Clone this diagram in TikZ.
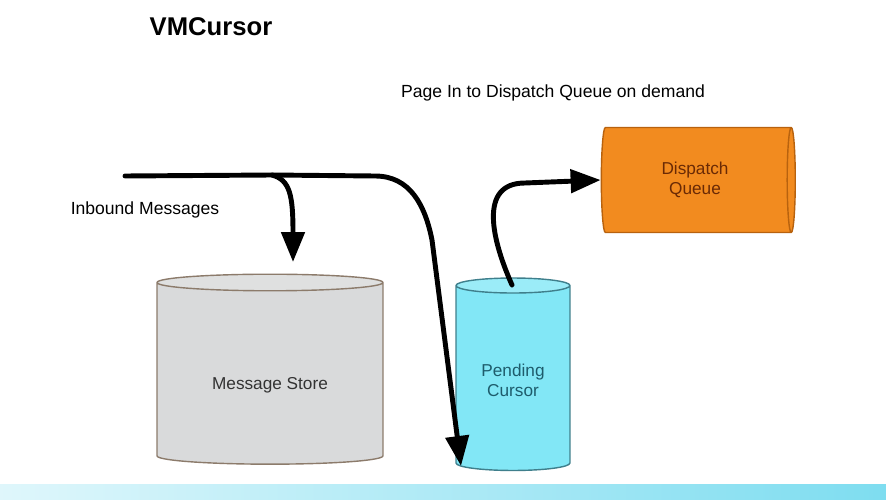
\documentclass[tikz,border=0pt]{standalone}
\usepackage{fontspec}
\setmainfont{Liberation Sans}
\usetikzlibrary{shapes.geometric,arrows.meta}
\definecolor{storegray}{HTML}{D9DADB}
\definecolor{storeline}{HTML}{8C7B6B}
\definecolor{pendcyan}{HTML}{82E7F6}
\definecolor{pendline}{HTML}{3F7F8C}
\definecolor{pendtext}{HTML}{1E5C6C}
\definecolor{queueorange}{HTML}{F28B1F}
\definecolor{queueline}{HTML}{B8620E}
\definecolor{queuetext}{HTML}{6A2A05}
\definecolor{stripcyan}{HTML}{7EDDF0}
\tikzset{
	store/.style={cylinder, draw, line width=0.8pt, cylinder uses custom fill, align=center, font=\fontsize{9.8}{11.5}\selectfont},
	flow/.style={line width=2.8pt, line cap=round, -{Triangle[length=0.6cm,width=0.46cm]}},
	caption/.style={font=\fontsize{10}{12}\selectfont}
}
\begin{document}
\begin{tikzpicture}[x=0.02cm, y=-0.02cm]
		\useasboundingbox (0,0) rectangle (886,500);
		\shade[left color=stripcyan!25!white, right color=stripcyan] (0,484) rectangle (886,500);
		\node at (211,27)(title){\fontsize{14.6}{16}\selectfont\bfseries VMCursor};
		\node[caption] at (553,93)(page){Page In to Dispatch Queue on demand};
		\node[caption] at (145,210)(inbound){Inbound Messages};
		\node[store, shape border rotate=90, aspect=0.13, minimum width=4.52cm, minimum height=3.8cm,
			draw=storeline, cylinder body fill=storegray, cylinder end fill=storegray!85!white, text=black!80] at (270,375)(msg){\raisebox{-0.2cm}[\height][\depth]{Message Store}};
		\node[store, shape border rotate=90, aspect=0.2, minimum width=2.28cm, minimum height=3.85cm,
			draw=pendline, cylinder body fill=pendcyan, cylinder end fill=pendcyan!80!white, text=pendtext] at (513,380)(pend){Pending\\Cursor};
		\node[store, aspect=0.17, minimum width=2.1cm, minimum height=3.88cm,
			draw=queueline, cylinder body fill=queueorange, cylinder end fill=queueorange, text=queuetext] at (695,180)(disp){Dispatch\\Queue};
		\coordinate (in) at (125,176);
		\coordinate (split) at (272,175);
		\coordinate (drop) at (293,262);
		\coordinate (pendin) at (461,466);
		\coordinate (pendout) at (512,285);
		\draw[flow] (in) -- (split) -- (375,176) .. controls (410,176) and (425,205) .. (432,240) -- (pendin);
		\draw[flow] (split) .. controls (290,180) and (293,195) .. (drop);
		\draw[flow] (pendout) .. controls (492,240) and (478,183) .. (525,183) -- (disp.west);
	\end{tikzpicture}
\end{document}
